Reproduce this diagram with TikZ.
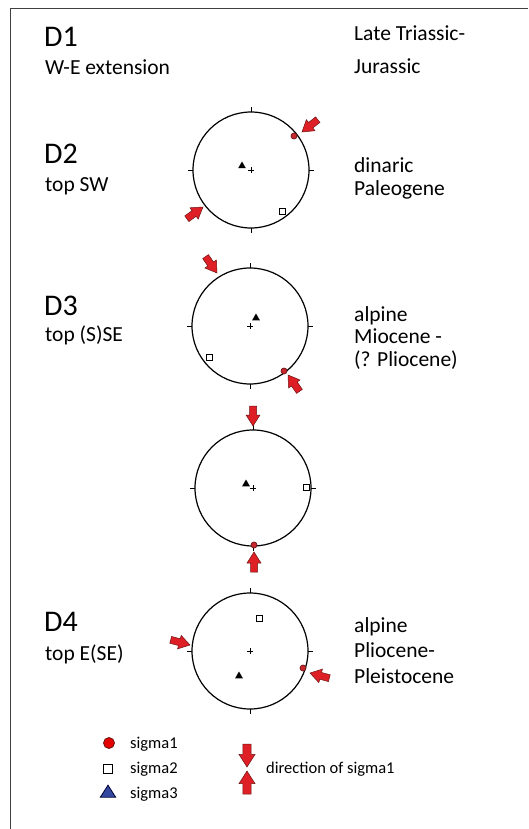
\documentclass[tikz,border=0pt]{standalone}
\usepackage{fontspec}
\setmainfont{Carlito}
\usetikzlibrary{shapes.geometric}
\definecolor{arrred}{RGB}{222,32,38}
\definecolor{arrdark}{RGB}{110,20,20}
\definecolor{dotred}{RGB}{200,40,45}
\definecolor{triblue}{RGB}{52,72,160}
\begin{document}
\begin{tikzpicture}[x=1pt,y=-1pt,
  netc/.style={circle,draw,line width=1.2pt,minimum size=116pt,inner sep=0,outer sep=0},
  tick/.style={line width=0.9pt},
  crs/.style={line width=0.8pt},
  sigone/.style={circle,draw=arrdark,fill=dotred,line width=0.7pt,inner sep=0,minimum size=6pt},
  sigtwo/.style={rectangle,draw,fill=white,line width=0.7pt,inner sep=0,minimum size=6pt},
  sigthree/.style={regular polygon,regular polygon sides=3,fill=black,inner sep=0,minimum size=9pt},
  dlab/.style={anchor=base west,inner sep=0,font=\fontsize{30}{34}\selectfont},
  txt/.style={anchor=base west,inner sep=0,font=\fontsize{21.5}{26}\selectfont},
  leg/.style={anchor=base west,inner sep=0,font=\fontsize{16.5}{19}\selectfont},
  sarrow/.pic={\filldraw[fill=arrred,draw=arrdark,line width=0.5pt,line join=miter]
     (0,0) -- (-11,-7) -- (-11,-3.5) -- (-20,-3.5) -- (-20,3.5) -- (-11,3.5) -- (-11,7) -- cycle;}
]
\useasboundingbox (0,0) rectangle (528,829);
\draw[line width=0.8pt,black!75] (10,829) -- (10,8) -- (528,8);

% left column
\node[dlab] (d1) at (44,47) {D1};
\node[txt] (s1) at (45,75) {W-E extension};
\node[dlab] (d2) at (44,164) {D2};
\node[txt] (s2) at (45,191) {top SW};
\node[dlab] (d3) at (44,315) {D3};
\node[txt] (s3) at (45,341) {top (S)SE};
\node[dlab] (d4) at (44,631) {D4};
\node[txt] (s4) at (45,660) {top E(SE)};

% right column
\node[txt] (r1a) at (354,41) {Late Triassic-};
\node[txt] (r1b) at (354,74) {Jurassic};
\node[txt] (r2a) at (354,172) {dinaric};
\node[txt] (r2b) at (354,195) {Paleogene};
\node[txt] (r3a) at (354,321) {alpine};
\node[txt] (r3b) at (354,343) {Miocene -};
\node[txt] (r3c) at (354,366) {(? Pliocene)};
\node[txt] (r4a) at (354,632) {alpine};
\node[txt] (r4b) at (354,657) {Pliocene-};
\node[txt] (r4c) at (354,683) {Pleistocene};

% stereonets
\foreach \n/\cx/\cy in {n1/251/170,n2/250/326,n3/253/488,n4/250/651}{
  \node[netc] (\n) at (\cx,\cy) {};
  \draw[tick] (\n.north) -- ++(0,-5);
  \draw[tick] (\n.south) -- ++(0,5);
  \draw[tick] (\n.east) -- ++(5,0);
  \draw[tick] (\n.west) -- ++(-5,0);
  \draw[crs] (\n.center) +(-3,0) -- +(3,0) +(0,-3) -- +(0,3);
}

% net 1 (D2)
\node[sigthree] (t1) at (242,166) {};
\node[sigtwo] (q1) at (282,211) {};
\node[sigone] (c1) at (294,136) {};
\pic[rotate=218] at (302,132) {sarrow};
\pic[rotate=36] at (203,207) {sarrow};

% net 2 (D3)
\node[sigthree] (t2) at (256,318) {};
\node[sigtwo] (q2) at (209,357) {};
\node[sigone] (c2) at (284,371) {};
\pic[rotate=-55] at (217,273) {sarrow};
\pic[rotate=125] at (288,375) {sarrow};

% net 3
\node[sigthree] (t3) at (246,484) {};
\node[sigtwo] (q3) at (306,487) {};
\node[sigone] (c3) at (254,545) {};
\pic[rotate=-90] at (253,426) {sarrow};
\pic[rotate=90] at (254,552) {sarrow};

% net 4 (D4)
\node[sigthree] (t4) at (239,676) {};
\node[sigtwo] (q4) at (259,618) {};
\node[sigone] (c4) at (303,668) {};
\pic[rotate=-15] at (190,645) {sarrow};
\pic[rotate=165] at (310,673) {sarrow};

% legend
\node[circle,draw=arrdark,fill=red!90!black,line width=0.8pt,minimum size=11pt,inner sep=0] (l1) at (109,743) {};
\node[rectangle,draw,fill=white,line width=0.8pt,minimum size=9pt,inner sep=0] (l2) at (108,769) {};
\node[isosceles triangle,isosceles triangle apex angle=65,shape border rotate=90,draw=black!80!blue,fill=triblue,line width=0.8pt,minimum height=12pt,inner sep=0] (l3) at (108,793) {};
\node[leg] (lt1) at (130,748) {sigma1};
\node[leg] (lt2) at (130,773) {sigma2};
\node[leg] (lt3) at (130,798) {sigma3};
\pic[rotate=-90,scale=1.15] at (247,767) {sarrow};
\pic[rotate=90,scale=1.15] at (247,771) {sarrow};
\node[leg] (lt4) at (266,773) {direction of sigma1};
\end{tikzpicture}
\end{document}
